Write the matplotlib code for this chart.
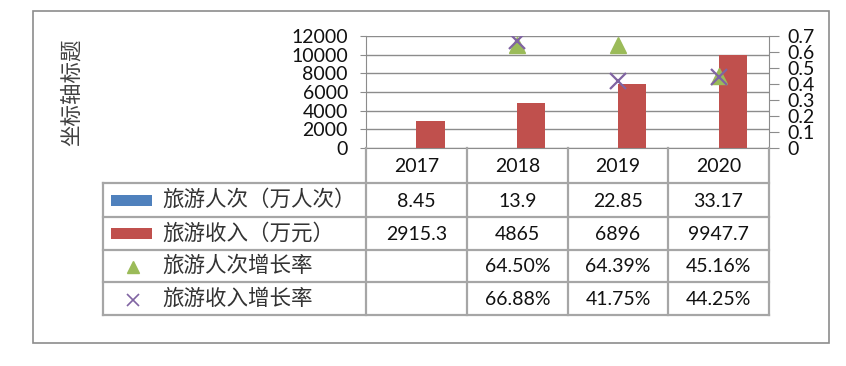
import matplotlib
matplotlib.use("Agg")
import matplotlib.pyplot as plt
from matplotlib.lines import Line2D
from matplotlib.patches import Rectangle
import numpy as np

plt.rcParams['font.family'] = ['Lato', 'Noto Sans CJK SC', 'DejaVu Sans']

years = ['2017', '2018', '2019', '2020']
visitors = [8.45, 13.9, 22.85, 33.17]
income = [2915.3, 4865, 6896, 9947.7]
visitor_growth = [np.nan, 0.6450, 0.6439, 0.4516]
income_growth = [np.nan, 0.6688, 0.4175, 0.4425]
visitor_growth_txt = ['', '64.50%', '64.39%', '45.16%']
income_growth_txt = ['', '66.88%', '41.75%', '44.25%']
visitors_txt = ['8.45', '13.9', '22.85', '33.17']
income_txt = ['2915.3', '4865', '6896', '9947.7']
series_names = ['旅游人次（万人次）', '旅游收入（万元）', '旅游人次增长率', '旅游收入增长率']
y_title = '坐标轴标题'

BLUE = '#4F81BD'
RED = '#C0504D'
GREEN = '#9BBB59'
PURPLE = '#8064A2'
GRID = '#8C8C8C'
TBL = '#A6A6A6'
NUMFS = 14

W, H = 846, 366
fig = plt.figure(figsize=(W / 100, H / 100), dpi=100)

def fx(x):
    return x / W

def fy(y):
    return 1 - y / H

# plot area in pixel coordinates
L, R, T, B = 366, 769, 36, 148
ax = fig.add_axes([fx(L), fy(B), fx(R - L), (B - T) / H])
x = np.arange(len(years))
bw = 0.28
ax.bar(x - bw / 2, visitors, bw, color=BLUE, zorder=3)
ax.bar(x + bw / 2, income, bw, color=RED, zorder=3)
ax.set_xlim(-0.5, 3.5)
ax.set_ylim(0, 12000)
ax.set_yticks(np.arange(0, 12001, 2000))
ax.set_yticklabels([str(v) for v in range(0, 12001, 2000)])
ax.set_xticks([])
ax.grid(axis='y', color=GRID, lw=1.0, zorder=0)
for s in ['top', 'right']:
    ax.spines[s].set_visible(False)
ax.spines['left'].set_color(GRID)
ax.spines['bottom'].set_color(GRID)
ax.tick_params(axis='y', length=4, color=GRID, pad=9, labelsize=NUMFS, labelcolor='#111111')
ax.patch.set_alpha(0)

ax2 = ax.twinx()
ax2.set_ylim(0, 0.7)
ax2.set_yticks(np.arange(0, 0.71, 0.1))
ax2.set_yticklabels(['0', '0.1', '0.2', '0.3', '0.4', '0.5', '0.6', '0.7'])
ax2.tick_params(axis='y', length=7, color=GRID, pad=6, labelsize=NUMFS, labelcolor='#111111')
for s in ['top', 'left', 'bottom']:
    ax2.spines[s].set_visible(False)
ax2.spines['right'].set_color(GRID)
ax2.plot(x, visitor_growth, ls='none', marker='^', ms=11, color=GREEN, zorder=4)
ax2.plot(x, income_growth, ls='none', marker='x', ms=12, mew=1.6, color=PURPLE, zorder=5)

# y-axis title
fig.text(fx(72), fy(92), y_title, rotation=90, ha='center', va='center',
         fontsize=15.5, family=['Noto Sans CJK SC'], color='#404040')

# outer border
fig.add_artist(Rectangle((fx(33), fy(343)), fx(829 - 33), (343 - 11) / H,
                         transform=fig.transFigure, fill=False, ec='#8C8C8C', lw=1.2))

# data table
cols = [366, 467, 568, 668, 769]
rows = [148, 183, 217, 250, 282, 315]
TL = 103

def hline(x0, x1, y):
    fig.add_artist(Line2D([fx(x0), fx(x1)], [fy(y), fy(y)], transform=fig.transFigure,
                          color=TBL, lw=1.6))

def vline(xp, y0, y1):
    fig.add_artist(Line2D([fx(xp), fx(xp)], [fy(y0), fy(y1)], transform=fig.transFigure,
                          color=TBL, lw=1.6))

for r in rows[1:]:
    hline(TL, cols[-1], r)
vline(TL, rows[1], rows[-1])
for c in cols:
    vline(c, rows[0], rows[-1])

# header years
for i, yr in enumerate(years):
    cx = (cols[i] + cols[i + 1]) / 2
    fig.text(fx(cx), fy((rows[0] + rows[1]) / 2 + 1), yr, ha='center', va='center',
             fontsize=NUMFS, color='#111111')

table_vals = [visitors_txt, income_txt, visitor_growth_txt, income_growth_txt]
for r, vals in enumerate(table_vals):
    cy = (rows[r + 1] + rows[r + 2]) / 2
    for i, v in enumerate(vals):
        cx = (cols[i] + cols[i + 1]) / 2
        fig.text(fx(cx), fy(cy + 1), v, ha='center', va='center', fontsize=NUMFS,
                 color='#111111')
    fig.text(fx(162), fy(cy), series_names[r], ha='left', va='center', fontsize=15.5,
             family=['Noto Sans CJK SC'], color='#333333')

# legend keys
for r, col in enumerate([BLUE, RED]):
    cy = (rows[r + 1] + rows[r + 2]) / 2
    fig.add_artist(Rectangle((fx(111), fy(cy + 5.5)), fx(41), 11 / H,
                             transform=fig.transFigure, color=col, lw=0))
cy3 = (rows[3] + rows[4]) / 2
fig.add_artist(Line2D([fx(133)], [fy(cy3 + 1)], transform=fig.transFigure, marker='^',
                      ms=9, color=GREEN, ls='none'))
cy4 = (rows[4] + rows[5]) / 2
fig.add_artist(Line2D([fx(133)], [fy(cy4 + 1)], transform=fig.transFigure, marker='x',
                      ms=9, mew=1.2, color=PURPLE, ls='none'))

fig.savefig('out.png', dpi=100)
